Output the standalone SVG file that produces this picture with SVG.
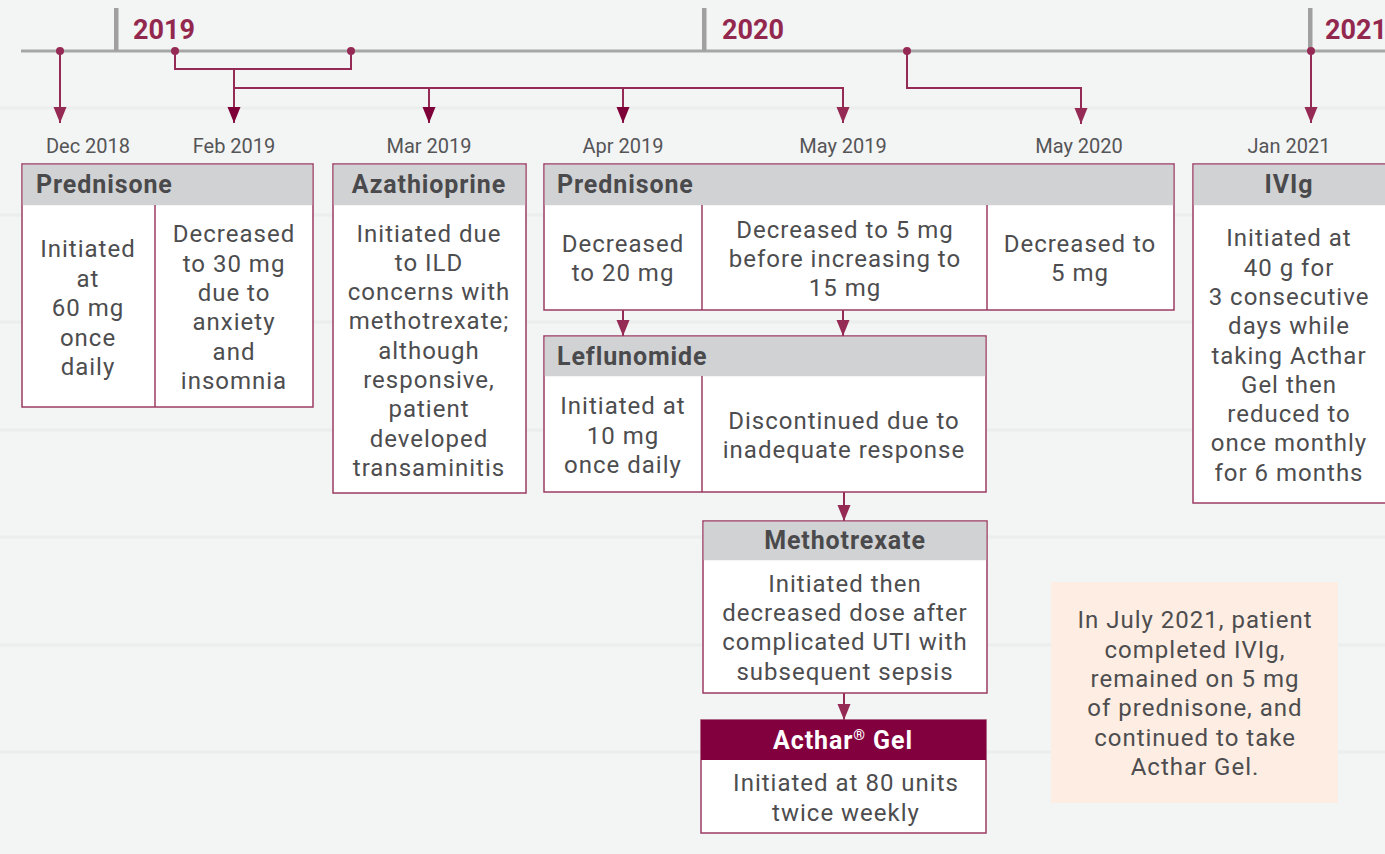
<svg xmlns="http://www.w3.org/2000/svg" width="1385" height="854" viewBox="0 0 1385 854">
<defs>
<style>
.t{font-family:Roboto,"Liberation Sans",sans-serif;font-size:24px;fill:#4d4d4f;text-anchor:middle;letter-spacing:1px}
.d{font-family:Roboto,"Liberation Sans",sans-serif;font-size:20px;fill:#555557;text-anchor:middle;letter-spacing:0px}
.h{font-family:Roboto,"Liberation Sans",sans-serif;font-size:25px;font-weight:bold;fill:#4a4a4c;letter-spacing:0.9px}
.y{font-family:Roboto,"Liberation Sans",sans-serif;font-size:27px;font-weight:bold;fill:#93284f}
.box{fill:#ffffff;stroke:#9b3b62;stroke-width:1.5}
.hd{fill:#d1d2d4}
.div{stroke:#9b3b62;stroke-width:1.5}
.c{fill:none;stroke:#952b55;stroke-width:2}
.dot{fill:#952b55}
</style>
<marker id="ah" markerUnits="userSpaceOnUse" markerWidth="16" markerHeight="14" refX="16" refY="7" orient="auto" viewBox="0 0 16 14">
<path d="M0,0.5 L16,7 L0,13.5 z" fill="#952b55"/>
</marker>
<marker id="ah2" markerUnits="userSpaceOnUse" markerWidth="16" markerHeight="14" refX="16" refY="7" orient="auto" viewBox="0 0 16 14">
<path d="M0,0.5 L16,7 L0,13.5 z" fill="#7e0038"/>
</marker>
</defs>
<rect x="0" y="0" width="1385" height="854" fill="#f3f4f4"/>
<g id="bg" stroke="#e8eaea" stroke-width="3" fill="none" opacity="0.7">
<path d="M0,108 H1385 M0,215 H1385 M0,322 H1385 M0,430 H1385 M0,537 H1385 M0,645 H1385 M0,752 H1385"/>
</g>
<g id="timeline">
<line x1="21" y1="51" x2="1385" y2="51" stroke="#a6a6a6" stroke-width="3"/>
<rect x="114" y="8" width="4.5" height="43" fill="#a0a0a0"/>
<rect x="702" y="8" width="4.5" height="43" fill="#a0a0a0"/>
<rect x="1308" y="8" width="4.5" height="43" fill="#a0a0a0"/>
<text class="y" x="133" y="39">2019</text>
<text class="y" x="722" y="39">2020</text>
<text class="y" x="1325" y="39">2021</text>
</g>
<g id="dates">
<text class="d" x="88" y="153">Dec 2018</text>
<text class="d" x="234" y="153">Feb 2019</text>
<text class="d" x="429" y="153">Mar 2019</text>
<text class="d" x="623" y="153">Apr 2019</text>
<text class="d" x="843" y="153">May 2019</text>
<text class="d" x="1079" y="153">May 2020</text>
<text class="d" x="1289" y="153">Jan 2021</text>
</g>
<g id="connectors">
<circle class="dot" cx="60" cy="51" r="4"/>
<path class="c" d="M60,51 V123" marker-end="url(#ah)"/>
<circle class="dot" cx="175" cy="51" r="4"/>
<circle class="dot" cx="351" cy="51" r="4"/>
<path class="c" d="M175,51 V69 H351 V51"/>
<path class="c" d="M234,69 V123" stroke="#7e0038" marker-end="url(#ah2)"/>
<path class="c" d="M234,88 H843 V123" marker-end="url(#ah)"/>
<path class="c" d="M429,88 V123" stroke="#7e0038" marker-end="url(#ah2)"/>
<path class="c" d="M623,88 V123" stroke="#7e0038" marker-end="url(#ah2)"/>
<circle class="dot" cx="907" cy="51" r="4"/>
<path class="c" d="M907,51 V88 H1081 V124" marker-end="url(#ah)"/>
<circle class="dot" cx="1311" cy="51" r="4"/>
<path class="c" d="M1311,51 V123" marker-end="url(#ah)"/>
<path class="c" d="M623,310 V336" marker-end="url(#ah)"/>
<path class="c" d="M843,310 V336" marker-end="url(#ah)"/>
<path class="c" d="M844,492 V521" marker-end="url(#ah)"/>
<path class="c" d="M844,693 V720" marker-end="url(#ah)"/>
</g>
<g id="prednisone1">
<rect class="box" x="22" y="164" width="291" height="243"/>
<rect class="hd" x="22.75" y="164.75" width="289.5" height="40.5"/>
<line class="div" x1="155" y1="205" x2="155" y2="407"/>
<text class="h" x="36" y="193">Prednisone</text>
<text class="t" x="88" y="257">Initiated</text>
<text class="t" x="88" y="287">at</text>
<text class="t" x="88" y="316">60 mg</text>
<text class="t" x="88" y="346">once</text>
<text class="t" x="88" y="375">daily</text>
<text class="t" x="234" y="242">Decreased</text>
<text class="t" x="234" y="272">to 30 mg</text>
<text class="t" x="234" y="301">due to</text>
<text class="t" x="234" y="330">anxiety</text>
<text class="t" x="234" y="360">and</text>
<text class="t" x="234" y="389">insomnia</text>
</g>
<g id="azathioprine">
<rect class="box" x="333" y="164" width="193" height="329"/>
<rect class="hd" x="333.75" y="164.75" width="191.5" height="40.5"/>
<text class="h" x="429" y="193" text-anchor="middle">Azathioprine</text>
<text class="t" x="429" y="242">Initiated due</text>
<text class="t" x="429" y="271">to ILD</text>
<text class="t" x="429" y="300">concerns with</text>
<text class="t" x="429" y="329">methotrexate;</text>
<text class="t" x="429" y="359">although</text>
<text class="t" x="429" y="388">responsive,</text>
<text class="t" x="429" y="417">patient</text>
<text class="t" x="429" y="447">developed</text>
<text class="t" x="429" y="476">transaminitis</text>
</g>
<g id="prednisone2">
<rect class="box" x="544" y="164" width="630" height="146"/>
<rect class="hd" x="544.75" y="164.75" width="628.5" height="40.5"/>
<line class="div" x1="702" y1="205" x2="702" y2="310"/>
<line class="div" x1="987" y1="205" x2="987" y2="310"/>
<text class="h" x="557" y="193">Prednisone</text>
<text class="t" x="623" y="252">Decreased</text>
<text class="t" x="623" y="281">to 20 mg</text>
<text class="t" x="845" y="238">Decreased to 5 mg</text>
<text class="t" x="845" y="267">before increasing to</text>
<text class="t" x="845" y="296">15 mg</text>
<text class="t" x="1080" y="252">Decreased to</text>
<text class="t" x="1080" y="281">5 mg</text>
</g>
<g id="leflunomide">
<rect class="box" x="544" y="336" width="442" height="156"/>
<rect class="hd" x="544.75" y="336.75" width="440.5" height="39.5"/>
<line class="div" x1="702" y1="376" x2="702" y2="492"/>
<text class="h" x="557" y="365">Leflunomide</text>
<text class="t" x="623" y="414">Initiated at</text>
<text class="t" x="623" y="444">10 mg</text>
<text class="t" x="623" y="473">once daily</text>
<text class="t" x="844" y="429">Discontinued due to</text>
<text class="t" x="844" y="458">inadequate response</text>
</g>
<g id="methotrexate">
<rect class="box" x="703" y="521" width="284" height="172"/>
<rect class="hd" x="703.75" y="521.75" width="282.5" height="38.5"/>
<text class="h" x="845" y="549" text-anchor="middle">Methotrexate</text>
<text class="t" x="845" y="592">Initiated then</text>
<text class="t" x="845" y="621">decreased dose after</text>
<text class="t" x="845" y="650">complicated UTI with</text>
<text class="t" x="845" y="680">subsequent sepsis</text>
</g>
<g id="acthar">
<rect class="box" x="701" y="720" width="285" height="113"/>
<rect x="701" y="720" width="285" height="40" fill="#83003e"/>
<text class="h" x="843" y="749" text-anchor="middle" style="fill:#ffffff">Acthar<tspan font-size="15" dy="-9">®</tspan><tspan dy="9"> Gel</tspan></text>
<text class="t" x="846" y="791">Initiated at 80 units</text>
<text class="t" x="846" y="821">twice weekly</text>
</g>
<g id="ivig">
<rect class="box" x="1193" y="164" width="200" height="339"/>
<rect class="hd" x="1193.75" y="164.75" width="198" height="40.5"/>
<text class="h" x="1289" y="193" text-anchor="middle">IVIg</text>
<text class="t" x="1289" y="246">Initiated at</text>
<text class="t" x="1289" y="276">40 g for</text>
<text class="t" x="1289" y="305">3 consecutive</text>
<text class="t" x="1289" y="334">days while</text>
<text class="t" x="1289" y="364">taking Acthar</text>
<text class="t" x="1289" y="393">Gel then</text>
<text class="t" x="1289" y="422">reduced to</text>
<text class="t" x="1289" y="451">once monthly</text>
<text class="t" x="1289" y="481">for 6 months</text>
</g>
<g id="note">
<rect x="1051" y="582" width="287" height="221" fill="#fdede3"/>
<text class="t" x="1195" y="628">In July 2021, patient</text>
<text class="t" x="1195" y="658">completed IVIg,</text>
<text class="t" x="1195" y="687">remained on 5 mg</text>
<text class="t" x="1195" y="716">of prednisone, and</text>
<text class="t" x="1195" y="746">continued to take</text>
<text class="t" x="1195" y="775">Acthar Gel.</text>
</g>
</svg>
